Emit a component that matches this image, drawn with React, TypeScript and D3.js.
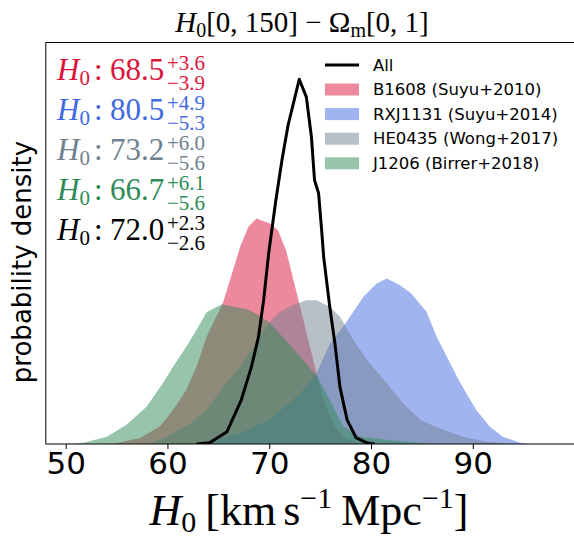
import React from "react";
import * as d3 from "d3";

// ---------- data ----------
const seriesNames = ["B1608 (Suyu+2010)", "RXJ1131 (Suyu+2014)", "HE0435 (Wong+2017)", "J1206 (Birrer+2018)"];
const seriesColors = ["crimson", "royalblue", "slategray", "seagreen"];

const b1608X = [54.0, 55.0, 57.25, 59.2, 60.5, 61.8, 62.8, 63.8, 65.4, 66.3, 67.1, 67.9, 68.7, 70.0, 70.8, 71.6, 72.6, 73.5, 74.6, 75.3, 76.2, 77.2, 78.5, 79.5];
const b1608Y = [0, 0.0004, 0.0027, 0.0078, 0.0152, 0.0242, 0.0346, 0.0481, 0.0632, 0.0765, 0.0884, 0.0974, 0.1011, 0.0989, 0.0959, 0.0869, 0.0686, 0.0520, 0.0317, 0.0197, 0.0093, 0.0033, 0.0004, 0];

const rxj1131X = [62.5, 63.8, 67.1, 70.3, 71.0, 73.0, 74.6, 75.9, 77.4, 79.2, 80.5, 81.5, 82.8, 83.9, 85.4, 86.4, 87.4, 88.4, 89.3, 90.3, 91.6, 92.9, 94.6, 95.6];
const rxj1131Y = [0, 0.0010, 0.0048, 0.0117, 0.0148, 0.0227, 0.0317, 0.0448, 0.0538, 0.0660, 0.0720, 0.0742, 0.0712, 0.0675, 0.0593, 0.0481, 0.0391, 0.0302, 0.0227, 0.0152, 0.0078, 0.0033, 0.0006, 0];

const he0435X = [58.0, 59.9, 62.2, 63.8, 65.4, 67.1, 68.7, 70.0, 71.0, 72.3, 73.6, 74.6, 75.9, 76.9, 78.2, 79.8, 81.5, 83.1, 84.8, 86.7, 89.0, 91.3, 94.0];
const he0435Y = [0, 0.0033, 0.0093, 0.0152, 0.0257, 0.0346, 0.0451, 0.0547, 0.0593, 0.0623, 0.0645, 0.0645, 0.0615, 0.0570, 0.0466, 0.0362, 0.0272, 0.0182, 0.0108, 0.0070, 0.0033, 0.0010, 0];

const j1206X = [50.0, 51.7, 54.0, 55.9, 57.9, 59.5, 60.5, 61.8, 62.8, 63.8, 65.3, 66.4, 67.7, 68.4, 69.9, 71.3, 73.0, 74.6, 75.9, 77.2, 78.9, 81.5, 84.8, 86.0];
const j1206Y = [0, 0.0006, 0.0033, 0.0085, 0.0167, 0.0272, 0.0346, 0.0436, 0.0511, 0.0591, 0.0627, 0.0615, 0.0605, 0.0591, 0.0547, 0.0479, 0.0391, 0.0305, 0.0197, 0.0078, 0.0033, 0.0018, 0.0004, 0];

const allX = [62.8, 64.1, 65.8, 67.2, 68.2, 68.9, 69.4, 69.9, 70.6, 71.2, 71.8, 72.9, 73.6, 74.1, 74.4, 74.8, 75.1, 75.3, 75.9, 76.4, 76.9, 77.6, 78.5, 79.6, 80.3];
const allY = [0, 0.0006, 0.0055, 0.0197, 0.0346, 0.0481, 0.0645, 0.0856, 0.1093, 0.1272, 0.1429, 0.1635, 0.1555, 0.1375, 0.1183, 0.1124, 0.0959, 0.0838, 0.0614, 0.0452, 0.0255, 0.0108, 0.0027, 0.0004, 0];

const xTicks = [50, 60, 70, 80, 90];
const medians = ["68.5", "80.5", "73.2", "66.7", "72.0"];
const errPlus = ["3.6", "4.9", "6.0", "6.1", "2.3"];
const errMinus = ["3.9", "5.3", "5.6", "5.6", "2.6"];
const annotColors = ["crimson", "royalblue", "slategray", "seagreen", "black"];

const seriesX = [b1608X, rxj1131X, he0435X, j1206X];
const seriesY = [b1608Y, rxj1131Y, he0435Y, j1206Y];

// ---------- layout ----------
const W = 574, H = 540;
const left = 45.8, right = 575.1, top = 42.5, bottom = 444;
const serif = "'Liberation Serif', 'DejaVu Serif', serif";
const sans = "'DejaVu Sans', sans-serif";

export default function App() {
  const x = d3.scaleLinear().domain([48, 100]).range([left, right]);
  const y = d3.scaleLinear().domain([0, 0.18]).range([bottom, top]);

  const area = d3.area<[number, number]>()
    .x((d) => x(d[0]))
    .y0(y(0))
    .y1((d) => y(d[1]));
  const line = d3.line<[number, number]>()
    .x((d) => x(d[0]))
    .y((d) => y(d[1]));

  const zipped = (xs: number[], ys: number[]) => xs.map((v, i) => [v, ys[i]] as [number, number]);

  return (
    <svg width={W} height={H} style={{ position: "absolute", left: 0, top: 0, background: "white" }}>
      <defs>
        <clipPath id="plotclip">
          <rect x={left} y={top} width={right - left} height={bottom - top} />
        </clipPath>
      </defs>
      <rect x={0} y={0} width={W} height={H} fill="white" />
      <g clipPath="url(#plotclip)">
        {seriesX.map((xs, i) => (
          <path key={i} d={area(zipped(xs, seriesY[i])) || ""} fill={seriesColors[i]} fillOpacity={0.5} stroke="none" />
        ))}
        <path d={line(zipped(allX, allY)) || ""} fill="none" stroke="black" strokeWidth={3} strokeLinejoin="round" />
      </g>
      {/* frame */}
      <rect x={left} y={top} width={right - left} height={bottom - top} fill="none" stroke="black" strokeWidth={1} />
      {/* x ticks */}
      {xTicks.map((t) => (
        <g key={t}>
          <line x1={x(t)} x2={x(t)} y1={bottom} y2={bottom + 5} stroke="black" strokeWidth={1} />
          <text x={x(t)} y={bottom + 30} textAnchor="middle" fontFamily={sans} fontSize={31} fill="black">{t}</text>
        </g>
      ))}
      {/* y label */}
      <text transform={`translate(31,262) rotate(-90)`} textAnchor="middle" fontFamily={sans} fontSize={26} fill="black">probability density</text>
      {/* x label */}
      <text x={309} y={525} textAnchor="middle" fontFamily={serif} fontSize={44} fill="black">
        <tspan fontStyle="italic">H</tspan>
        <tspan fontSize={30} dy={7}>0</tspan>
        <tspan dy={-7} dx={9}>[km</tspan>
        <tspan dx={7}>s</tspan>
        <tspan fontSize={30} dy={-17}>{"\u22121"}</tspan>
        <tspan dy={17} dx={9}>Mpc</tspan>
        <tspan fontSize={30} dy={-17}>{"\u22121"}</tspan>
        <tspan dy={17}>]</tspan>
      </text>
      {/* title */}
      <text x={302} y={32} textAnchor="middle" fontFamily={serif} fontSize={29} fill="black">
        <tspan fontStyle="italic">H</tspan>
        <tspan fontSize={20} dy={5}>0</tspan>
        <tspan dy={-5}>{"[0, 150] \u2212 \u03A9"}</tspan>
        <tspan fontSize={20} dy={5}>m</tspan>
        <tspan dy={-5}>[0, 1]</tspan>
      </text>
      {/* annotations */}
      {medians.map((m, i) => {
        const by = 80 + 40 * i;
        return (
          <g key={i} fill={annotColors[i]} fontFamily={serif}>
            <text x={57} y={by} fontSize={31}>
              <tspan fontStyle="italic">H</tspan>
              <tspan fontSize={21} dy={5}>0</tspan>
            </text>
            <text x={94} y={by} fontSize={31}>:</text>
            <text x={110} y={by} fontSize={31}>{m}</text>
            <text x={167} y={by - 10} fontSize={21}>{"+" + errPlus[i]}</text>
            <text x={167} y={by + 10} fontSize={21}>{"\u2212" + errMinus[i]}</text>
          </g>
        );
      })}
      {/* legend */}
      <g fontFamily={sans} fontSize={16.5}>
        <line x1={325} x2={359} y1={65} y2={65} stroke="black" strokeWidth={3} />
        <text x={373} y={65} dominantBaseline="central">All</text>
        {seriesNames.map((n, i) => {
          const cy = 89.5 + 24.6 * i;
          return (
            <g key={n}>
              <rect x={325} y={cy - 6} width={34} height={12} fill={seriesColors[i]} fillOpacity={0.5} />
              <text x={373} y={cy} dominantBaseline="central">{n}</text>
            </g>
          );
        })}
      </g>
    </svg>
  );
}
